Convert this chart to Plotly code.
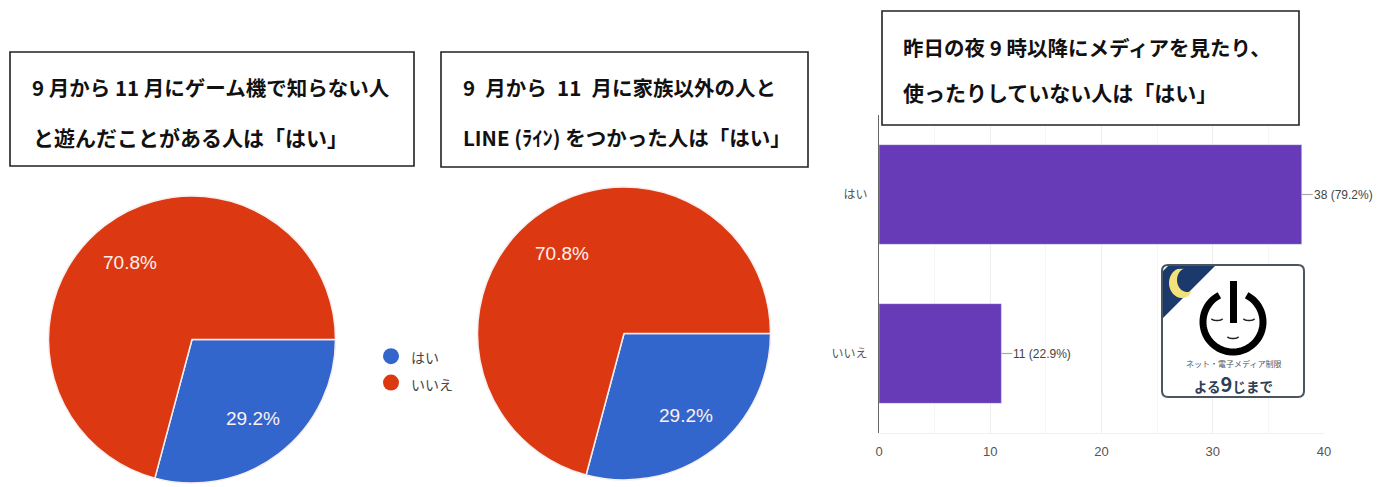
import numpy as np
import plotly.graph_objects as go

W, H = 1382, 487
answers = ["はい", "いいえ"]
game_counts = [14, 34]
line_counts = [14, 34]
media_counts = [38, 11]
media_labels = ["38 (79.2%)", "11 (22.9%)"]
pie_colors = ["#3366cc", "#dc3912"]
bar_color = "#673ab7"
axis_ticks = [0, 10, 20, 30, 40]

JP = "Noto Sans CJK JP"
SANS = "Liberation Sans"

def X(p): return p / W
def Y(p): return 1 - p / H
def P(points, close=False):
    return "M" + " L".join(f"{X(a):.5f},{Y(b):.5f}" for a, b in points) + (" Z" if close else "")

fig = go.Figure()
shapes, annos = [], []

def txt(s, x, y, size=20.5, color="#111", anchor="left", bold=True, family=JP):
    annos.append(dict(text=f"<b>{s}</b>" if bold else s, x=X(x), y=Y(y), xref="paper", yref="paper",
                      xanchor=anchor, yanchor="middle", showarrow=False,
                      font=dict(family=family, size=size, color=color)))

def add_pie(vals, cx, cy, r, label_xy):
    fig.add_trace(go.Pie(
        labels=answers, values=vals, sort=False, direction="clockwise", rotation=90,
        marker=dict(colors=pie_colors, line=dict(color="#f8eeee", width=1.5)),
        textinfo="none",
        domain=dict(x=[X(cx - r), X(cx + r)], y=[Y(cy + r), Y(cy - r)]),
        showlegend=False, hoverinfo="label+percent"))
    total = sum(vals)
    for v, (lx, ly) in zip(vals, label_xy):
        txt(f"{v / total:.1%}", lx, ly, size=19, color="#fdf1ee", anchor="center", bold=False, family=SANS)

add_pie(game_counts, 192, 339.5, 143.5, [(253, 418), (130, 262)])
add_pie(line_counts, 624, 333.5, 146.5, [(686, 415), (562, 254)])

fig.add_trace(go.Bar(y=answers, x=media_counts, orientation="h",
                     marker=dict(color=bar_color), width=0.627, showlegend=False))

# legend entries with round keys, as in the source chart
for name, col in zip(answers, pie_colors):
    fig.add_trace(go.Scatter(x=[None], y=[None], mode="markers",
                             name=f"<span style='font-size:14px'>{name}</span>",
                             marker=dict(color=col, size=16, symbol="circle")))

def box(x0, y0, x1, y1):
    shapes.append(dict(type="rect", xref="paper", yref="paper", x0=X(x0), x1=X(x1), y0=Y(y1), y1=Y(y0),
                       fillcolor="white", line=dict(color="#222", width=1.6)))

box(10, 52, 414, 166)
box(441, 52, 808, 167)
box(882, 11, 1299, 125)
txt("9 月から 11 月にゲーム機で知らない人", 30, 87)
txt("と遊んだことがある人は「はい」", 31, 137, size=21)
txt("9\u2002月から\u200211\u2002月に家族以外の人と", 461, 87)
txt("LINE (ﾗｲﾝ) をつかった人は「はい」", 461, 137)
txt("昨日の夜 9 時以降にメディアを見たり、", 901, 47)
txt("使ったりしていない人は「はい」", 901, 92, size=21)

# bar value labels with leader lines
for a, v, lab in zip(answers, media_counts, media_labels):
    shapes.append(dict(type="line", xref="x", yref="y", xsizemode="pixel", xanchor=v, x0=0, x1=11,
                       y0=a, y1=a, line=dict(color="#aaa", width=1.2)))
    annos.append(dict(text=lab, x=v, y=a, xref="x", yref="y", xanchor="left", yanchor="middle",
                      xshift=10, showarrow=False,
                      font=dict(family=SANS, size=12, color="#444")))

# "夜9時まで" icon
x0, x1, y0, y1, c = 1162, 1304, 265, 397, 6
shapes.append(dict(type="path", xref="paper", yref="paper",
                   path=(f"M{X(x0 + c)},{Y(y0)} L{X(x1 - c)},{Y(y0)} Q{X(x1)},{Y(y0)} {X(x1)},{Y(y0 + c)} "
                         f"L{X(x1)},{Y(y1 - c)} Q{X(x1)},{Y(y1)} {X(x1 - c)},{Y(y1)} "
                         f"L{X(x0 + c)},{Y(y1)} Q{X(x0)},{Y(y1)} {X(x0)},{Y(y1 - c)} "
                         f"L{X(x0)},{Y(y0 + c)} Q{X(x0)},{Y(y0)} {X(x0 + c)},{Y(y0)} Z"),
                   fillcolor="white", line=dict(color="#4a5560", width=2)))
shapes.append(dict(type="path", xref="paper", yref="paper",
                   path=P([(1168, 266), (1215, 266), (1163, 318), (1163, 271)], True),
                   fillcolor="#1b3a6b", line=dict(width=0)))
outer = [(1182 + 13 * np.cos(a), 283 + 15 * np.sin(a)) for a in np.radians(np.linspace(60, 250, 24))]
inner = [(1187 + 10 * np.cos(a), 280 + 12 * np.sin(a)) for a in np.radians(np.linspace(250, 60, 24))]
shapes.append(dict(type="path", xref="paper", yref="paper", path=P(outer + inner, True),
                   fillcolor="#f2e27a", line=dict(width=0)))
arc = np.radians(np.linspace(117, 423, 60))
ring = [(1233 + 30 * np.cos(a), 322 - 30 * np.sin(a)) for a in arc]
shapes.append(dict(type="path", xref="paper", yref="paper", path=P(ring), line=dict(color="#000", width=7)))
shapes.append(dict(type="line", xref="paper", yref="paper", x0=X(1233.5), x1=X(1233.5), y0=Y(323), y1=Y(281),
                   line=dict(color="#000", width=7)))
for cx, cy, rx in [(1217, 318, 6), (1249, 318, 6), (1233, 336, 6)]:
    a = np.radians(np.linspace(20, 160, 10))
    shapes.append(dict(type="path", xref="paper", yref="paper",
                       path=P([(cx + rx * np.cos(v), cy + 2.5 * np.sin(v)) for v in a]),
                       line=dict(color="#222", width=1.5)))
txt("ネット・電子メディア制限", 1233, 363, size=8, color="#555", anchor="center", bold=False)
txt("よる<span style='font-size:20px'>9</span>じまで", 1233, 383, size=13.5, color="#2a3f55", anchor="center", bold=True)

fig.update_layout(
    width=W, height=H, margin=dict(l=0, r=0, t=0, b=0, autoexpand=False), autosize=False,
    paper_bgcolor="white", plot_bgcolor="white",
    shapes=shapes, annotations=annos,
    legend=dict(x=X(371), y=Y(338), xanchor="left", yanchor="top", bgcolor="rgba(0,0,0,0)",
                font=dict(family=JP, size=18, color="#444"), itemwidth=30, tracegroupgap=0),
    xaxis=dict(domain=[X(879), X(1324)], range=[0, 40], tickvals=axis_ticks,
               showgrid=True, gridcolor="#eeeeee", zeroline=False, showline=True, linecolor="#f0f0f0",
               minor=dict(dtick=5, tick0=0, showgrid=True, gridcolor="#f6f6f6"),
               ticks="outside", ticklen=6, tickcolor="rgba(0,0,0,0)",
               tickfont=dict(family=SANS, size=13, color="#555")),
    yaxis=dict(domain=[Y(433), Y(115)], autorange="reversed", categoryorder="array", categoryarray=answers,
               showgrid=False, showline=True, linecolor="#666", linewidth=1.2, zeroline=False,
               ticks="outside", ticklen=8, tickcolor="rgba(0,0,0,0)",
               tickfont=dict(family=JP, size=12, color="#555")),
)
fig.write_html("out.html", config=dict(displayModeBar=False),
               post_script="document.body.style.margin='0';")
